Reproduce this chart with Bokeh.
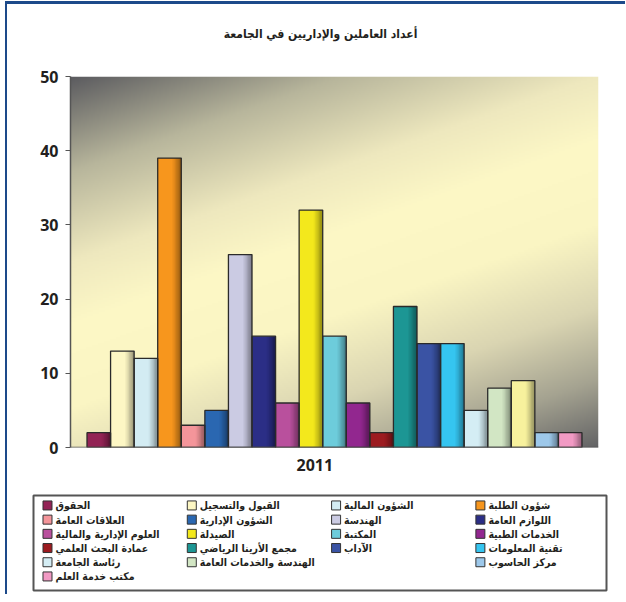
import numpy as np
from bokeh.plotting import figure
from bokeh.models import ColumnDataSource, FactorRange, Range1d, Span, Title
from bokeh.transform import dodge
from bokeh.layouts import column
from bokeh.embed import file_html
from bokeh.resources import INLINE
from bokeh.core.properties import value

# ---------------- data ----------------
title_text = "أعداد العاملين والإداريين في الجامعة"
year = "2011"
categories = [
    "الحقوق", "القبول والتسجيل", "الشؤون المالية", "شؤون الطلبة",
    "العلاقات العامة", "الشؤون الإدارية", "الهندسة", "اللوازم العامة",
    "العلوم الإدارية والمالية", "الصيدلة", "المكتبة", "الخدمات الطبية",
    "عمادة البحث العلمي", "مجمع الأرينا الرياضي", "الآداب", "تقنية المعلومات",
    "رئاسة الجامعة", "الهندسة والخدمات العامة", "", "مركز الحاسوب",
    "مكتب خدمة العلم",
]
counts = [2, 13, 12, 39, 3, 5, 26, 15, 6, 32, 15, 6, 2, 19, 14, 14, 5, 8, 9, 2, 2]
colors = [
    "#932355", "#fdf7c4", "#d3ecf3", "#f7961d",
    "#f4959a", "#2a67b1", "#cbcbe3", "#2b2e86",
    "#b9509d", "#f3e81c", "#6dccdb", "#92278f",
    "#9c1b20", "#1c9694", "#3a53a4", "#35c5f0",
    "#d4edf4", "#d2e6c4", "#f7f19d", "#9dc8ea",
    "#f29ac4",
]
y_ticks = [0, 10, 20, 30, 40, 50]

AR_FONT = "DejaVu Sans Condensed"
WIDTH = 618

# ---------------- title strip ----------------
tf = figure(width=WIDTH, height=40, x_range=Range1d(0, WIDTH), y_range=Range1d(40, 0),
            output_backend="svg", toolbar_location=None, min_border=0)
tf.frame_align = False
tf.axis.visible = False
tf.grid.visible = False
tf.outline_line_color = None
tf.background_fill_color = "white"
tf.border_fill_color = "white"
tf.text(x=[313], y=[29], text=[title_text], text_align="center", text_baseline="middle",
        text_font=value(AR_FONT), text_font_size="12px", text_font_style="bold",
        text_color="#231f20")

# ---------------- chart ----------------
keys = [c if c else "بدون اسم" for c in categories]
factors = [(year, k) for k in keys]
src = ColumnDataSource(dict(x=factors, top=counts, color=colors))

PAD = 0.7
p = figure(width=WIDTH, height=443,
           x_range=FactorRange(*factors, range_padding=PAD, range_padding_units="absolute"),
           y_range=Range1d(y_ticks[0], y_ticks[-1]),
           output_backend="svg", toolbar_location=None,
           min_border_left=63, min_border_right=27, min_border_top=32, min_border_bottom=40)
p.frame_align = False

p.background_fill_color = "white"
p.border_fill_color = "white"
p.outline_line_color = None
p.xgrid.visible = False
p.ygrid.visible = False

# background gradient of the plot area (spans the whole padded factor range)
H, W = 186, 264
u = np.linspace(0, 1, W)[None, :]
v = np.linspace(1, 0, H)[:, None]
t = (u + 2 * v) / 3.0
stops = [0.0, 0.17, 0.33, 0.45, 0.6, 0.75, 0.88, 1.0]
cols = np.array([(92, 92, 96), (184, 182, 156), (238, 232, 190), (253, 248, 198),
                 (250, 245, 195), (218, 213, 178), (165, 163, 145), (100, 100, 102)], float)
img = np.empty((H, W), dtype=np.uint32)
view = img.view(dtype=np.uint8).reshape((H, W, 4))
for ch in range(3):
    view[:, :, ch] = np.interp(t, stops, cols[:, ch]).astype(np.uint8)
view[:, :, 3] = 255
bg_src = ColumnDataSource(dict(image=[img], x=[factors[0]]))
p.image_rgba(image="image", x=dodge("x", -0.5 - PAD, range=p.x_range), y=0,
             dw=len(factors) + 2 * PAD, dh=50, source=bg_src)

# bars
p.vbar(x="x", top="top", width=1.0, source=src, fill_color="color", line_color=None)
nstrip = 7
sw = 0.055
for k in range(nstrip):
    off = 0.5 - (k + 0.5) * sw
    a = 0.42 * (1 - k / nstrip) ** 1.3
    p.vbar(x=dodge("x", off, range=p.x_range), top="top", width=sw, source=src,
           fill_color="black", fill_alpha=a, line_color=None)
p.vbar(x="x", top="top", width=1.0, source=src, fill_alpha=0,
       line_color="#2a2a2a", line_width=1.3)

# axes
p.yaxis.ticker = y_ticks
p.yaxis.major_label_text_font = "Open Sans"
p.yaxis.major_label_text_font_size = "16px"
p.yaxis.major_label_text_font_style = "bold"
p.yaxis.major_label_text_color = "#231f20"
p.yaxis.major_label_standoff = 7
p.yaxis.axis_line_color = "#555555"
p.yaxis.axis_line_width = 1.5
p.yaxis.major_tick_line_color = "#555555"
p.yaxis.major_tick_in = 0
p.yaxis.major_tick_out = 5
p.yaxis.minor_tick_line_color = None

p.xaxis.visible = False
p.add_layout(Span(location=0, dimension="width", line_color="#555555", line_width=1.5))
p.add_layout(Title(text=year, align="left", offset=226, standoff=19, text_font="Open Sans",
                   text_font_size="16px", text_font_style="bold", text_color="#231f20"),
             "below")

# ---------------- legend ----------------
lx = [i % 4 for i in range(len(categories)) if categories[i]]
ly = [i // 4 for i in range(len(categories)) if categories[i]]
lc = [colors[i] for i in range(len(categories)) if categories[i]]
lt = [c for c in categories if c]
lsrc = ColumnDataSource(dict(x=lx, y=ly, color=lc, label=lt))

lg = figure(width=WIDTH, height=107,
            x_range=Range1d(-0.097, 3.874), y_range=Range1d(5.99, -0.70),
            output_backend="svg", toolbar_location=None,
            min_border_left=26, min_border_right=19, min_border_top=8, min_border_bottom=4)
lg.frame_align = False
lg.axis.visible = False
lg.grid.visible = False
lg.outline_line_color = "#555555"
lg.outline_line_width = 2
lg.background_fill_color = "white"
lg.scatter(x="x", y="y", source=lsrc, marker="square", size=9,
           fill_color="color", line_color="#333333", line_width=1)
lg.text(x="x", y="y", text="label", source=lsrc, x_offset=8,
        text_align="left", text_baseline="middle",
        text_font=value(AR_FONT), text_font_style="bold",
        text_font_size="10.5px", text_color="#231f20")

layout = column(tf, p, lg, styles={"border-top": "3px solid #1d4a8a",
                                   "border-left": "2px solid #1d4a8a",
                                   "margin-top": "1px", "margin-left": "5px"})

open("out.html", "w").write(file_html(layout, INLINE))
